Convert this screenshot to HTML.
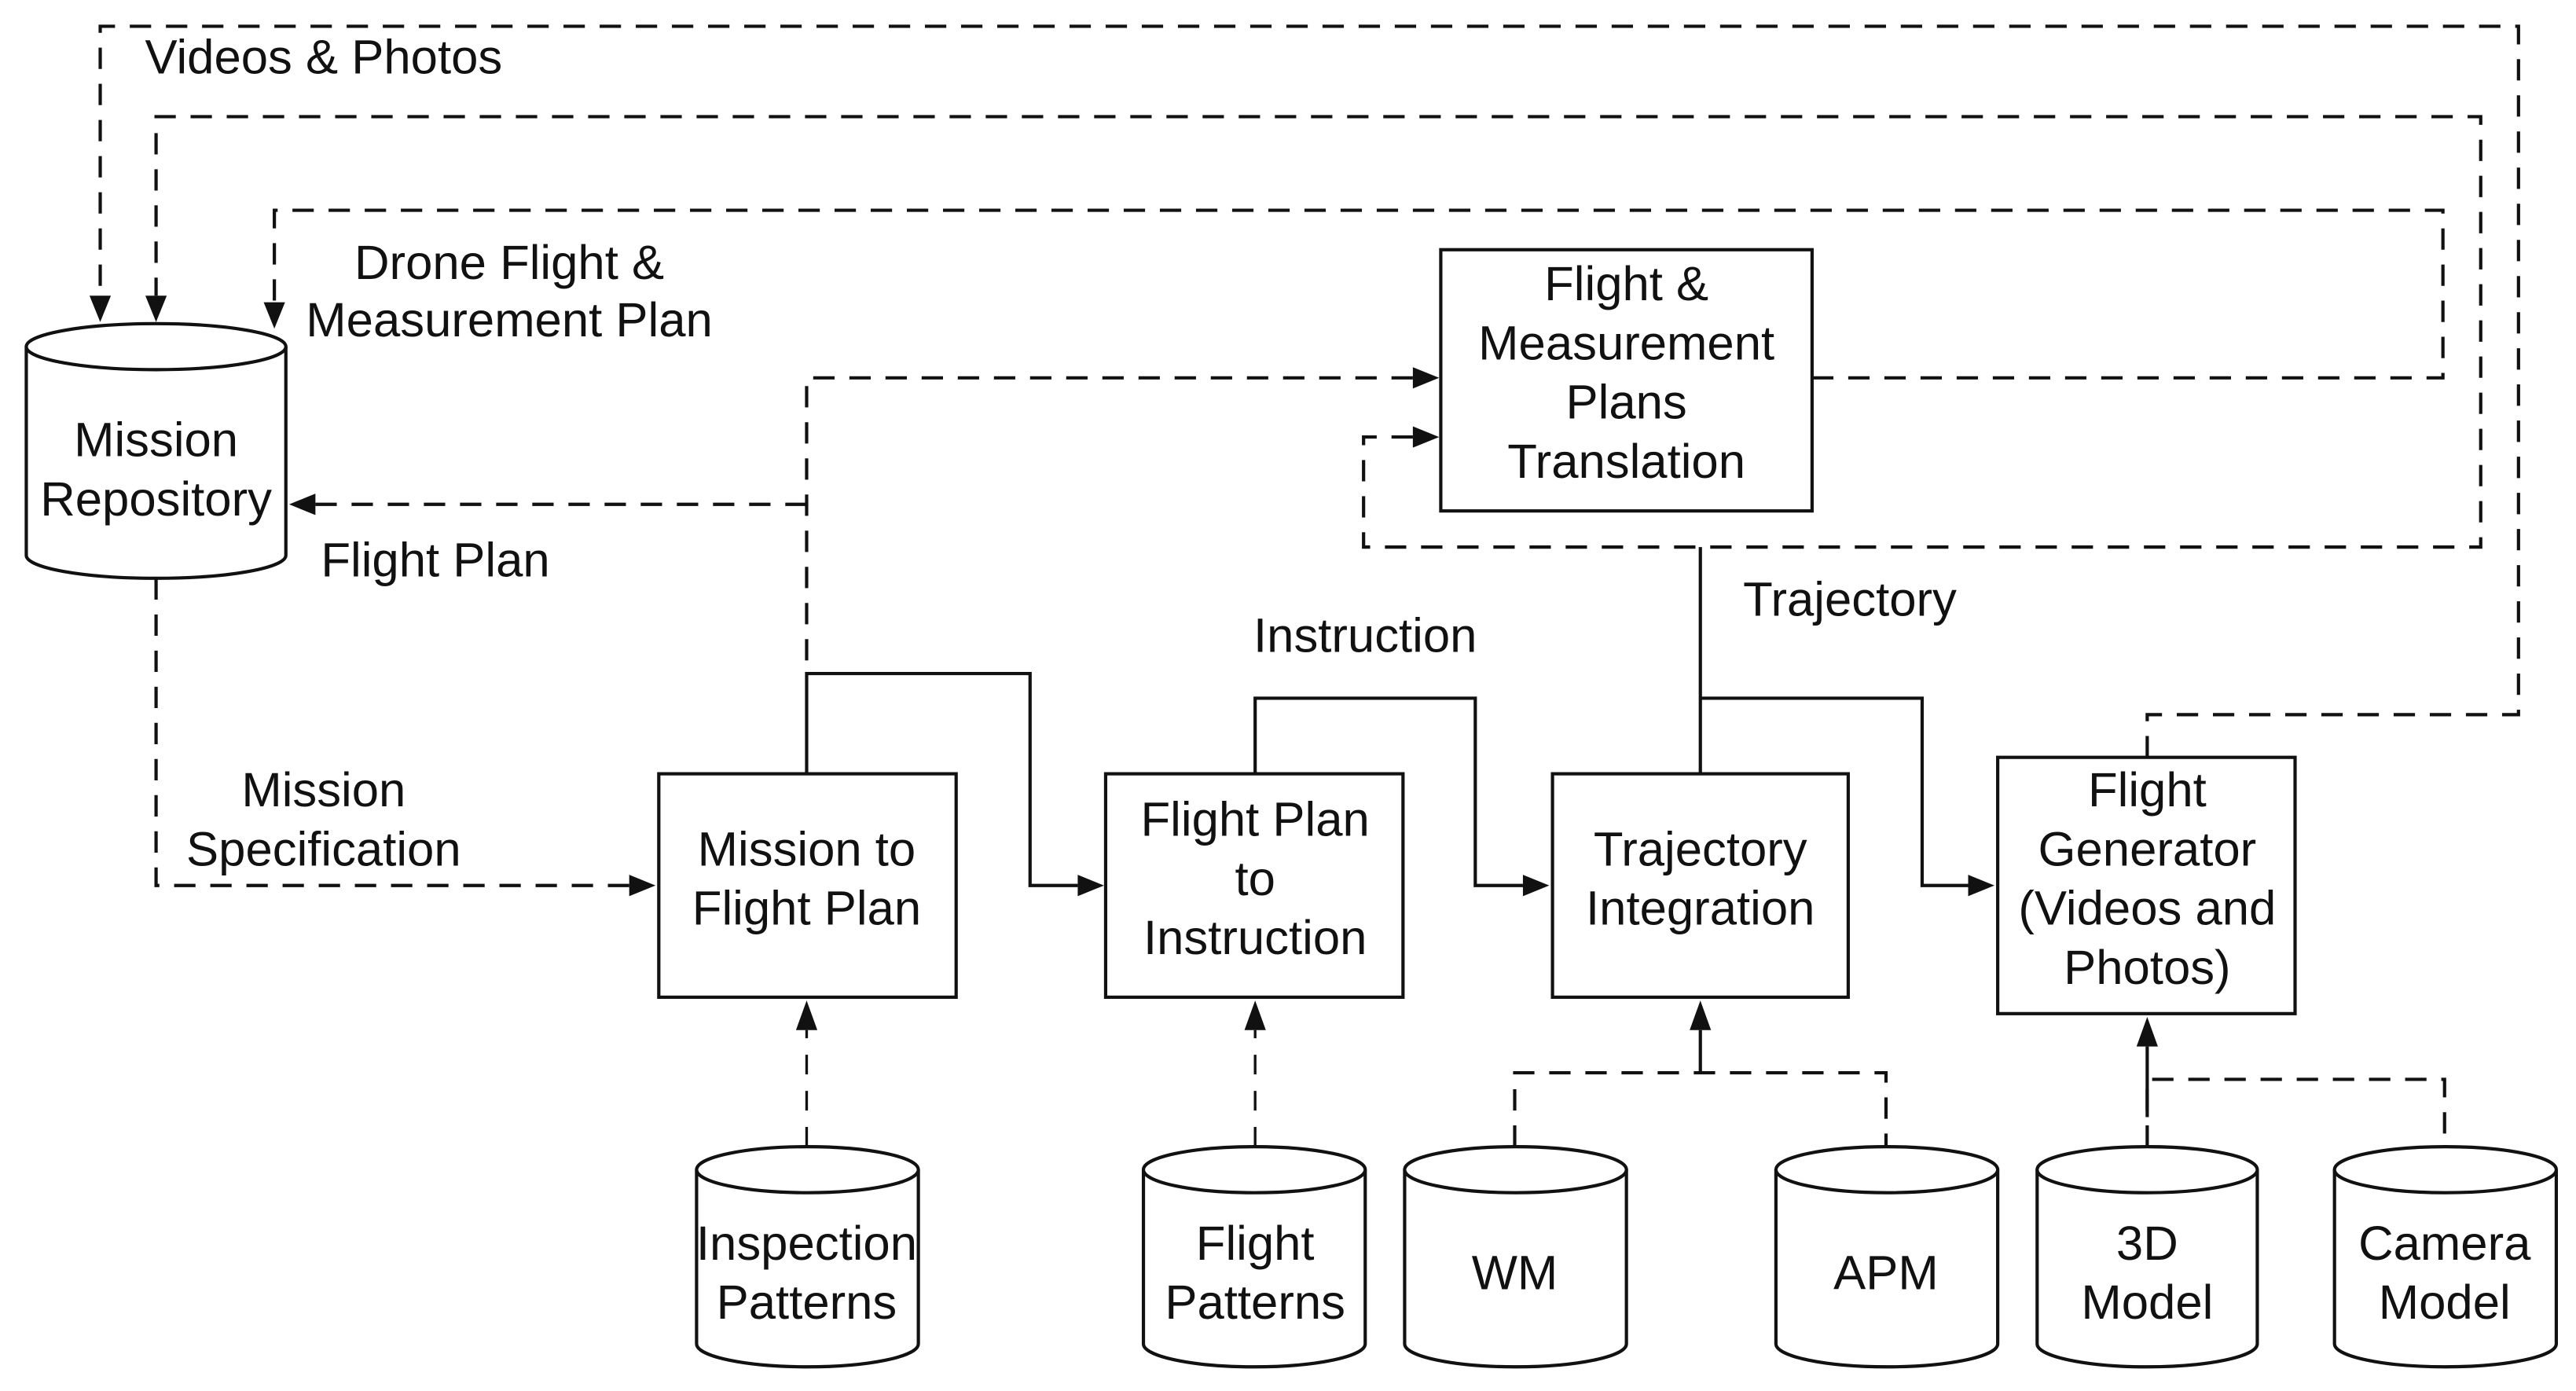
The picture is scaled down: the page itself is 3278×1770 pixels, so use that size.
<!DOCTYPE html>
<html><head><meta charset="utf-8"><style>
html,body{margin:0;padding:0;background:#fff;width:3278px;height:1770px;overflow:hidden}
svg{display:block}
text{font-family:"Liberation Sans",Arial,sans-serif;font-size:29.5px;fill:#111;text-anchor:middle;dominant-baseline:central}
.s{fill:none;stroke:#111;stroke-width:2}
.d{fill:none;stroke:#111;stroke-width:2;stroke-dasharray:13 9}
.d2{fill:none;stroke:#111;stroke-width:1.6;stroke-dasharray:12 10}
.a{fill:#111}
.c{fill:#fff;stroke:#111;stroke-width:2}
</style></head><body>
<svg width="3278" height="1770" viewBox="0 0 1568 846.7" preserveAspectRatio="none">
<path class="d" d="M1307 461 V435 H1533 V16 H61 V180"/>
<polygon class="a" points="54.5,180 67.5,180 61,196"/>
<text x="197" y="35">Videos &amp; Photos</text>
<path class="d" d="M860 266 H830 V333 H1510 V71 H95 V180"/>
<polygon class="a" points="88.5,180 101.5,180 95,196"/>
<polygon class="a" points="860,259.5 860,272.5 876,266"/>
<path class="d" d="M1103 230 H1487 V128 H167 V184"/>
<polygon class="a" points="160.5,184 173.5,184 167,200"/>
<text x="310" y="160">Drone Flight &amp;</text>
<text x="310" y="195">Measurement Plan</text>
<rect class="c" x="877" y="152" width="226" height="159"/>
<text x="990" y="173">Flight &amp;</text>
<text x="990" y="209">Measurement</text>
<text x="990" y="245">Plans</text>
<text x="990" y="281">Translation</text>
<path class="d" d="M860 230 H491 V410"/>
<polygon class="a" points="860,223.5 860,236.5 876,230"/>
<path class="d" d="M491 307 H192"/>
<polygon class="a" points="192,300.5 192,313.5 176,307"/>
<text x="265" y="341">Flight Plan</text>
<path class="c" d="M16 211 V338 A79 14 0 0 0 174 338 V211"/>
<ellipse class="c" cx="95" cy="211" rx="79" ry="14"/>
<text x="95" y="268">Mission</text>
<text x="95" y="304">Repository</text>
<path class="d" d="M95 352 V539 H383"/>
<polygon class="a" points="383,532.5 383,545.5 399,539"/>
<text x="197" y="481">Mission</text>
<text x="197" y="517">Specification</text>
<rect class="c" x="401" y="471" width="181" height="136"/>
<text x="491" y="517">Mission to</text>
<text x="491" y="553">Flight Plan</text>
<rect class="c" x="673" y="471" width="181" height="136"/>
<text x="764" y="499">Flight Plan</text>
<text x="764" y="535">to</text>
<text x="764" y="571">Instruction</text>
<rect class="c" x="945" y="471" width="180" height="136"/>
<text x="1035" y="517">Trajectory</text>
<text x="1035" y="553">Integration</text>
<rect class="c" x="1216" y="461" width="181" height="156"/>
<text x="1307" y="481">Flight</text>
<text x="1307" y="517">Generator</text>
<text x="1307" y="553">(Videos and</text>
<text x="1307" y="589">Photos)</text>
<path class="s" d="M491 471 V410 H627 V539 H656"/>
<polygon class="a" points="656,532.5 656,545.5 672,539"/>
<path class="s" d="M764 471 V425 H898 V539 H927"/>
<polygon class="a" points="927,532.5 927,545.5 943,539"/>
<text x="831" y="387">Instruction</text>
<path class="s" d="M1035 333 V471 M1035 425 H1170 V539 H1198"/>
<polygon class="a" points="1198,532.5 1198,545.5 1214,539"/>
<text x="1126" y="365">Trajectory</text>
<path class="d2" d="M491 698 V627"/>
<polygon class="a" points="484.5,627 497.5,627 491,609"/>
<path class="d2" d="M764 698 V627"/>
<polygon class="a" points="757.5,627 770.5,627 764,609"/>
<path class="d" d="M922 698 V653 H1148 V698"/>
<path class="s" d="M1035 653 V627"/>
<polygon class="a" points="1028.5,627 1041.5,627 1035,609"/>
<path class="d" d="M1307 698 V657 H1488 V698"/>
<path class="s" d="M1307 680 V637"/>
<polygon class="a" points="1300.5,637 1313.5,637 1307,619"/>
<g>
<path class="c" d="M424 712 V818 A67.5 14 0 0 0 559 818 V712"/><ellipse class="c" cx="491.5" cy="712" rx="67.5" ry="14"/>
<text x="491" y="757">Inspection</text><text x="491" y="793">Patterns</text>
<path class="c" d="M696 712 V818 A67.5 14 0 0 0 831 818 V712"/><ellipse class="c" cx="763.5" cy="712" rx="67.5" ry="14"/>
<text x="764" y="757">Flight</text><text x="764" y="793">Patterns</text>
<path class="c" d="M855 712 V818 A67.5 14 0 0 0 990 818 V712"/><ellipse class="c" cx="922.5" cy="712" rx="67.5" ry="14"/>
<text x="922" y="775">WM</text>
<path class="c" d="M1081 712 V818 A67.5 14 0 0 0 1216 818 V712"/><ellipse class="c" cx="1148.5" cy="712" rx="67.5" ry="14"/>
<text x="1148" y="775">APM</text>
<path class="c" d="M1240 712 V818 A67 14 0 0 0 1374 818 V712"/><ellipse class="c" cx="1307" cy="712" rx="67" ry="14"/>
<text x="1307" y="757">3D</text><text x="1307" y="793">Model</text>
<path class="c" d="M1421 712 V818 A67.5 14 0 0 0 1556 818 V712"/><ellipse class="c" cx="1488.5" cy="712" rx="67.5" ry="14"/>
<text x="1488" y="757">Camera</text><text x="1488" y="793">Model</text>
</g>
</svg>
</body></html>
